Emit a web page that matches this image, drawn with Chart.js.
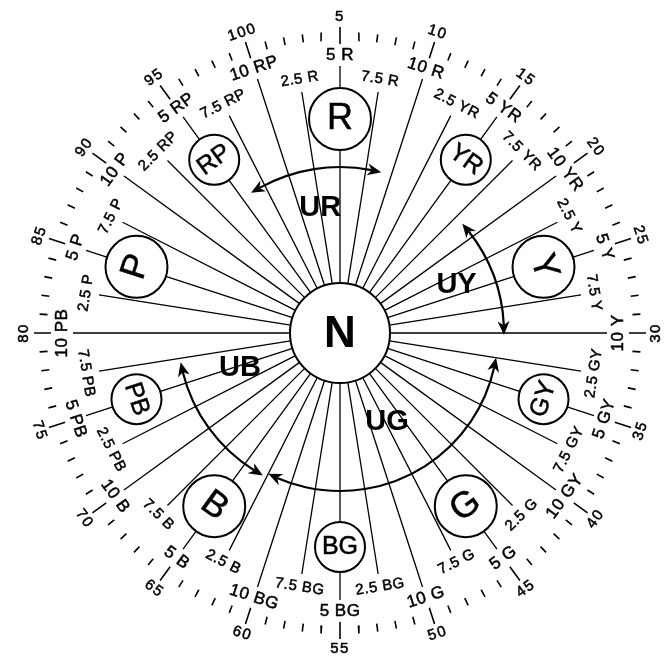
<!DOCTYPE html>
<html>
<head>
<meta charset="utf-8">
<title>Munsell hue circle</title>
<script src="https://cdn.jsdelivr.net/npm/chart.js@4.4.1/dist/chart.umd.min.js"></script>
<style>
    html, body { margin: 0; padding: 0; background: #fff; }
    #wrap { width: 668px; height: 657px; }
</style>
</head>
<body>
<div id="wrap"><canvas id="hueChart"></canvas></div>
<script>
// hue families, clockwise from the top (hue number 5 = 5 R)
const families = ['R', 'YR', 'Y', 'GY', 'G', 'BG', 'B', 'PB', 'P', 'RP'];
const familySteps = [2.5, 5, 7.5, 10];
const scaleNumbers = [5, 10, 15, 20, 25, 30, 35, 40, 45, 50, 55, 60, 65, 70, 75, 80, 85, 90, 95, 100];
const scaleDivisions = 100;

// unique hue ranges, in hue numbers
const arcNames = ['UR', 'UY', 'UG', 'UB'];
const arcStart = [-4, 18.4, 32.5, 62.9];
const arcEnd = [9, 30.2, 62.5, 77.1];

// layout, radii in scale units (1 unit = 1 px)
const CENTER_R = 50;
const SPOKE_MAJOR = 267, SPOKE_MINOR = 244;
const BADGE_R = 214;
const LABEL_MAJOR = 278, LABEL_MINOR = 257;
const TICK_IN = 293, TICK_OUT = 301, TICK_IN_5 = 289, TICK_OUT_5 = 306;
const NUMBER_R = 316;
const arcRadius = [166, 164, 158, 162];
const arcLabelHue = [2.5, 23.8, 47.3, 74.6];
const arcLabelR = [127, 126, 101, 106];

const FONT = '"Liberation Sans", Arial, sans-serif';

function hueAngle(h) {
    return (h - 5) * 3.6 * Math.PI / 180;
}

function polar(h, r) {
    const a = hueAngle(h);
    return { x: r * Math.sin(a), y: r * Math.cos(a) };
}

const gap = { x: null, y: null };

// spokes from the neutral circle
const spokeData = [];
families.forEach(function (fam, i) {
    familySteps.forEach(function (step) {
        const h = i * 10 + step;
        const major = step === 5 || step === 10;
        spokeData.push(polar(h, CENTER_R), polar(h, major ? SPOKE_MAJOR : SPOKE_MINOR), gap);
    });
});

// outer graduation
const tickData = [];
for (let k = 1; k <= scaleDivisions; k++) {
    const five = k % 5 === 0;
    tickData.push(polar(k, five ? TICK_IN_5 : TICK_IN), polar(k, five ? TICK_OUT_5 : TICK_OUT), gap);
}

// neutral + principal hue badges
const badgeData = [{ x: 0, y: 0 }];
const badgeSizes = [CENTER_R];
families.forEach(function (fam, i) {
    badgeData.push(polar(i * 10 + 5, BADGE_R));
    badgeSizes.push(i % 2 === 0 ? 31 : 25);
});

// keep lettering readable: lower half is turned round
function textRotation(h) {
    let deg = ((h - 5) * 3.6) % 360;
    if (deg > 180) deg -= 360;
    if (deg >= 90) deg -= 180;
    else if (deg < -90) deg += 180;
    return deg * Math.PI / 180;
}

const hueDiagram = {
    id: 'hueDiagram',
    afterDatasetsDraw(chart) {
        const ctx = chart.ctx;
        const xs = chart.scales.x, ys = chart.scales.y;

        function toPx(p) {
            return [xs.getPixelForValue(p.x), ys.getPixelForValue(p.y)];
        }

        function radialText(text, h, r, font, spacing) {
            const [x, y] = toPx(polar(h, r));
            ctx.save();
            ctx.translate(x, y);
            ctx.rotate(textRotation(h));
            ctx.font = font;
            ctx.letterSpacing = spacing || '0px';
            ctx.textAlign = 'center';
            ctx.textBaseline = 'middle';
            ctx.lineWidth = 0.5;
            ctx.fillText(text, 0, 0);
            ctx.strokeText(text, 0, 0);
            ctx.restore();
        }

        ctx.save();
        ctx.fillStyle = '#000';
        ctx.strokeStyle = '#000';

        // hue labels
        families.forEach(function (fam, i) {
            familySteps.forEach(function (step) {
                const major = step === 5 || step === 10;
                radialText(step + ' ' + fam, i * 10 + step,
                    major ? LABEL_MAJOR : LABEL_MINOR,
                    (major ? '17px ' : '15px ') + FONT, '0.5px');
            });
        });

        // graduation numbers
        scaleNumbers.forEach(function (n) {
            radialText(String(n), n, NUMBER_R, '15px ' + FONT, '1.5px');
        });

        // badge letters
        families.forEach(function (fam, i) {
            radialText(fam, i * 10 + 5, BADGE_R, (i % 2 === 0 ? '36px ' : '25px ') + FONT);
        });

        const [cx, cy] = toPx({ x: 0, y: 0 });
        ctx.font = 'bold 44px ' + FONT;
        ctx.textAlign = 'center';
        ctx.textBaseline = 'middle';
        ctx.fillText('N', cx, cy + 2);

        // unique hue arcs with arrows at both ends
        const arrowLen = 14, arrowHalf = 6;
        arcNames.forEach(function (name, i) {
            const rr = xs.getPixelForValue(arcRadius[i]) - cx;
            const a1 = hueAngle(arcStart[i]) - Math.PI / 2;
            const a2 = hueAngle(arcEnd[i]) - Math.PI / 2;
            const d = arrowLen / rr;

            ctx.lineWidth = 2.2;
            ctx.beginPath();
            ctx.arc(cx, cy, rr, a1 + d * 0.7, a2 - d * 0.7);
            ctx.stroke();

            [[a1, a1 + d], [a2, a2 - d]].forEach(function (pair) {
                const tip = [cx + rr * Math.cos(pair[0]), cy + rr * Math.sin(pair[0])];
                const bc = Math.cos(pair[1]), bs = Math.sin(pair[1]);
                const back = [cx + rr * bc, cy + rr * bs];
                const notch = [tip[0] * 0.3 + back[0] * 0.7, tip[1] * 0.3 + back[1] * 0.7];
                ctx.beginPath();
                ctx.moveTo(tip[0], tip[1]);
                ctx.lineTo(back[0] + bc * arrowHalf, back[1] + bs * arrowHalf);
                ctx.lineTo(notch[0], notch[1]);
                ctx.lineTo(back[0] - bc * arrowHalf, back[1] - bs * arrowHalf);
                ctx.closePath();
                ctx.fill();
            });

            const [lx, ly] = toPx(polar(arcLabelHue[i], arcLabelR[i]));
            ctx.font = 'bold 29px ' + FONT;
            ctx.fillText(name, lx, ly);
        });

        ctx.restore();
    }
};

new Chart(document.getElementById('hueChart'), {
    type: 'scatter',
    data: {
        datasets: [
            {
                label: 'badges',
                data: badgeData,
                pointRadius: badgeSizes,
                pointBackgroundColor: '#fff',
                pointBorderColor: '#000',
                pointBorderWidth: 2,
                order: 0
            },
            {
                label: 'spokes',
                data: spokeData,
                showLine: true,
                spanGaps: false,
                borderColor: '#000',
                borderWidth: 1.3,
                pointRadius: 0,
                order: 2
            },
            {
                label: 'ticks',
                data: tickData,
                showLine: true,
                spanGaps: false,
                borderColor: '#000',
                borderWidth: 1.6,
                pointRadius: 0,
                order: 2
            }
        ]
    },
    options: {
        responsive: true,
        maintainAspectRatio: false,
        animation: false,
        events: [],
        layout: { padding: 0, autoPadding: false },
        scales: {
            x: { type: 'linear', display: false, min: -340, max: 328 },
            y: { type: 'linear', display: false, min: -324, max: 333 }
        },
        plugins: {
            legend: { display: false },
            tooltip: { enabled: false }
        }
    },
    plugins: [hueDiagram]
});
</script>
</body>
</html>
